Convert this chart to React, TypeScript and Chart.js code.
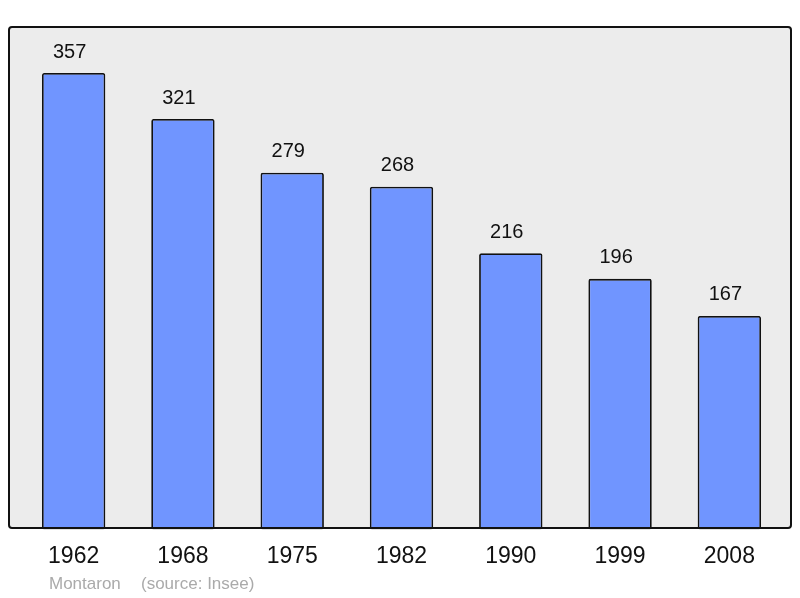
import React, { useEffect, useRef } from "react";
import { Chart, registerables } from "chart.js";

Chart.register(...registerables);

const years = ["1962", "1968", "1975", "1982", "1990", "1999", "2008"];
const population = [357, 321, 279, 268, 216, 196, 167];
const footerName = "Montaron";
const footerSource = "(source: Insee)";

const FONT = "'Liberation Sans', Arial, sans-serif";

function framePath(ctx: any) {
  const x0 = 9, y0 = 27, x1 = 791, y1 = 528, r = 3;
  ctx.beginPath();
  ctx.moveTo(x0 + r, y0);
  ctx.lineTo(x1 - r, y0);
  ctx.quadraticCurveTo(x1, y0, x1, y0 + r);
  ctx.lineTo(x1, y1 - r);
  ctx.quadraticCurveTo(x1, y1, x1 - r, y1);
  ctx.lineTo(x0 + r, y1);
  ctx.quadraticCurveTo(x0, y1, x0, y1 - r);
  ctx.lineTo(x0, y0 + r);
  ctx.quadraticCurveTo(x0, y0, x0 + r, y0);
  ctx.closePath();
}

const framePlugin = {
  id: "frame",
  beforeDraw(chart: any) {
    const { ctx } = chart;
    ctx.save();
    framePath(ctx);
    ctx.fillStyle = "#ececec";
    ctx.fill();
    ctx.restore();
  },
  afterDatasetsDraw(chart: any) {
    const { ctx } = chart;
    ctx.save();
    framePath(ctx);
    ctx.lineWidth = 2;
    ctx.strokeStyle = "#111";
    ctx.stroke();

    // value labels
    const meta = chart.getDatasetMeta(0);
    ctx.fillStyle = "#111";
    ctx.font = `20px ${FONT}`;
    ctx.textAlign = "center";
    ctx.textBaseline = "middle";
    meta.data.forEach((bar: any, i: number) => {
      ctx.fillText(String(population[i]), bar.x - 4, bar.y - 21);
    });

    // footer
    ctx.fillStyle = "#aaaaaa";
    ctx.font = `17px ${FONT}`;
    ctx.textAlign = "left";
    ctx.fillText(footerName, 49, 584);
    ctx.fillText(footerSource, 141, 584);
    ctx.restore();
  },
};

export default function App() {
  const ref = useRef<HTMLCanvasElement>(null);
  useEffect(() => {
    document.body.style.margin = "0";
    const chart = new Chart(ref.current!, {
      type: "bar",
      data: {
        labels: years,
        datasets: [
          {
            data: population,
            backgroundColor: "#7095ff",
            borderColor: "#111",
            borderWidth: 1.8,
            borderRadius: 2,
            borderSkipped: false,
            barPercentage: 0.58,
            categoryPercentage: 1,
          },
        ],
      },
      options: {
        responsive: false,
        animation: false,
        layout: { padding: { left: 19, right: 16, top: 27, bottom: 15 } },
        plugins: { legend: { display: false }, tooltip: { enabled: false } },
        scales: {
          x: {
            grid: { display: false, drawTicks: false, tickLength: 0 },
            border: { display: false },
            ticks: {
              color: "#111",
              font: { size: 23, family: FONT },
              padding: 13,
              maxRotation: 0,
            },
          },
          y: {
            display: false,
            min: 0,
            max: 393,
          },
        },
      },
      plugins: [framePlugin],
    });
    return () => chart.destroy();
  }, []);
  return (
    <div style={{ width: 800, height: 598, background: "#fff" }}>
      <canvas ref={ref} width={800} height={598} />
    </div>
  );
}
